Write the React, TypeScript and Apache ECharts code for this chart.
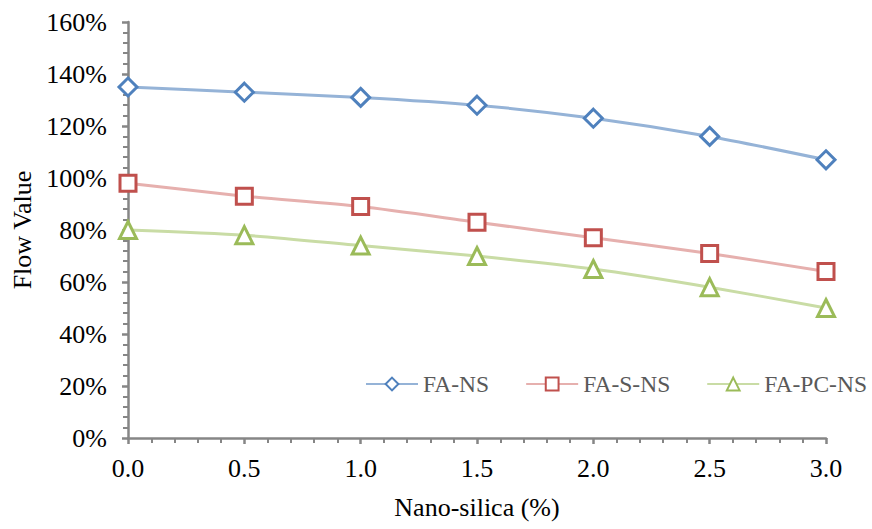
import React, { useEffect, useRef } from "react";
import * as echarts from "echarts";

const xValues = [0, 0.5, 1.0, 1.5, 2.0, 2.5, 3.0];
const faNS = [135, 133, 131, 128, 123, 116, 107];
const faSNS = [98, 93, 89, 83, 77, 71, 64];
const faPCNS = [80, 78, 74, 70, 65, 58, 50];
const seriesNames = ["FA-NS", "FA-S-NS", "FA-PC-NS"];

const FONT = "'Liberation Serif', 'Times New Roman', serif";

export default function App() {
  const ref = useRef<HTMLDivElement>(null);
  useEffect(() => {
    if (!ref.current) return;
    const chart = echarts.init(ref.current, undefined, { renderer: "svg" });
    const mk = (name: string, data: number[], line: string, marker: string, symbol: string) => ({
      name,
      type: "line",
      smooth: 0.25,
      data: xValues.map((x, i) => [x, data[i]]),
      symbol,
      symbolSize: symbol === "triangle" ? 17 : symbol === "diamond" ? 18 : 16,
      lineStyle: { color: line, width: 3 },
      itemStyle: { color: "#ffffff", borderColor: marker, borderWidth: 3 },
      z: 3,
    });
    chart.setOption({
      animation: false,
      backgroundColor: "#ffffff",
      textStyle: { fontFamily: FONT },
      grid: { left: 128, right: 46, top: 22, bottom: 91, containLabel: false },
      legend: {
        show: true,
        left: 365,
        top: 372,
        padding: 0,
        itemWidth: 52,
        itemHeight: 16,
        itemGap: 36,
        textStyle: { fontFamily: FONT, fontSize: 23.5, color: "#595959", padding: [0, 0, 0, 0] },
        data: seriesNames,
      },
      xAxis: {
        type: "value",
        min: 0,
        max: 3,
        interval: 0.5,
        name: "Nano-silica (%)",
        nameLocation: "middle",
        nameGap: 56,
        nameTextStyle: { fontFamily: FONT, fontSize: 26, color: "#000" },
        axisLine: { show: true, lineStyle: { color: "#868686", width: 2.5 } },
        axisTick: { show: true, length: 6, lineStyle: { color: "#868686", width: 2.5 } },
        minorTick: { show: true, splitNumber: 5, length: 5, lineStyle: { color: "#868686", width: 2 } },
        splitLine: { show: false },
        axisLabel: {
          fontFamily: FONT,
          fontSize: 26,
          color: "#000",
          margin: 17,
          formatter: (v: number) => v.toFixed(1),
        },
      },
      yAxis: {
        type: "value",
        min: 0,
        max: 160,
        interval: 20,
        name: "Flow Value",
        nameLocation: "middle",
        nameGap: 93,
        nameTextStyle: { fontFamily: FONT, fontSize: 26, color: "#000" },
        axisLine: { show: true, lineStyle: { color: "#868686", width: 2.5 } },
        axisTick: { show: true, length: 6, lineStyle: { color: "#868686", width: 2.5 } },
        minorTick: { show: true, splitNumber: 5, length: 5, lineStyle: { color: "#868686", width: 2 } },
        splitLine: { show: false },
        axisLabel: {
          fontFamily: FONT,
          fontSize: 26,
          color: "#000",
          margin: 21,
          formatter: (v: number) => v + "%",
        },
      },
      series: [
        mk(seriesNames[0], faNS, "#95B3D7", "#4F81BD", "diamond"),
        mk(seriesNames[1], faSNS, "#E6B0AE", "#C0504D", "rect"),
        mk(seriesNames[2], faPCNS, "#C9DCA5", "#9BBB59", "triangle"),
      ],
    });
    return () => chart.dispose();
  }, []);
  return <div ref={ref} style={{ width: 872, height: 529, position: "absolute", left: 0, top: 0 }} />;
}
